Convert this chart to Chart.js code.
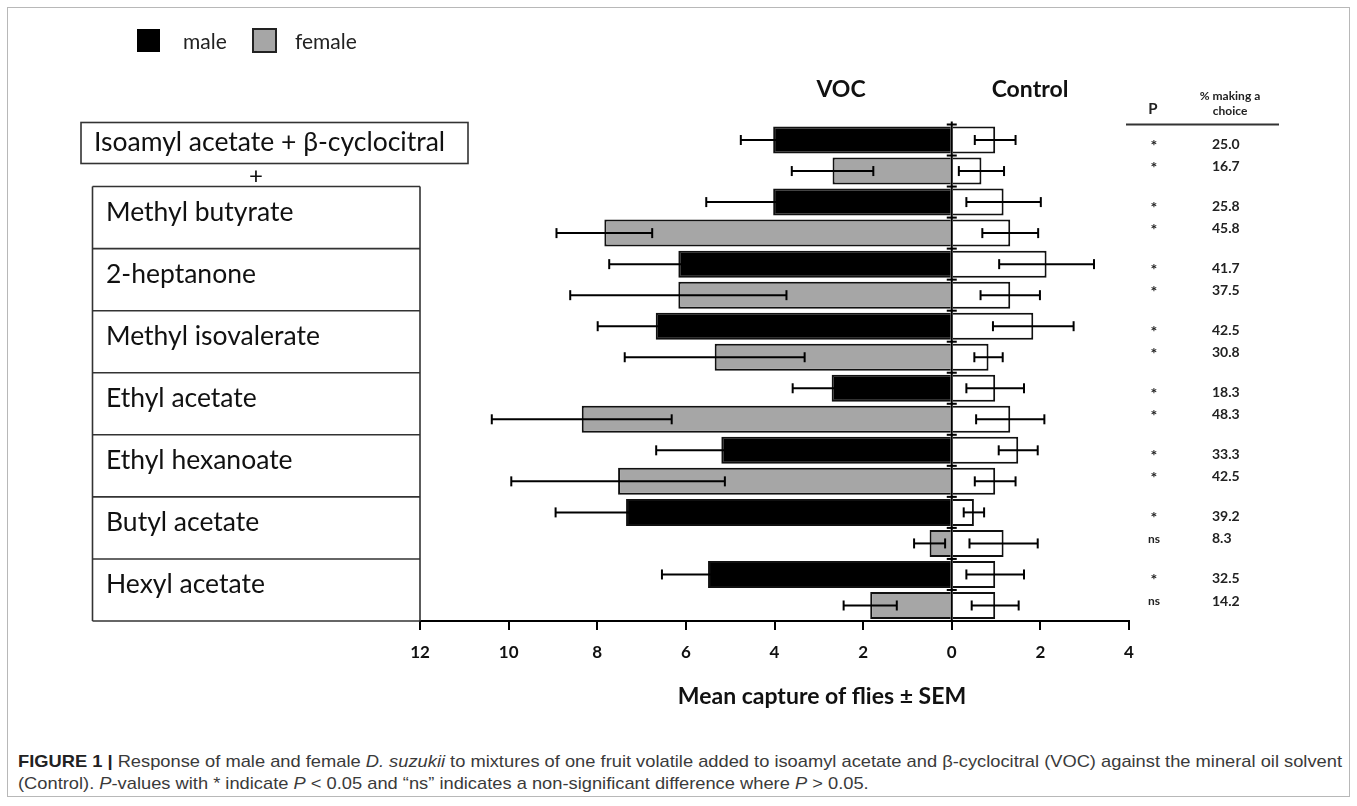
<!DOCTYPE html>
<html>
<head>
<meta charset="utf-8">
<script src="https://cdn.jsdelivr.net/npm/chart.js@4.4.1/dist/chart.umd.min.js"></script>
<style>
  html, body { margin: 0; padding: 0; background: #fff; }
  body { width: 1357px; height: 806px; position: relative; overflow: hidden; }
  #frame { position: absolute; left: 7px; top: 7px; width: 1341px; height: 788px; border: 1px solid #b8b8b8; }
  #chart { position: absolute; left: 0; top: 0; }
  #caption { position: absolute; left: 18px; top: 751px; font-family: "Liberation Sans Narrow", "Liberation Sans", Arial, sans-serif;
             font-size: 17px; line-height: 22px; color: #3a3a3a; white-space: nowrap; }
  #caption .line { display: inline-block; transform-origin: 0 50%; }
  #caption b { color: #222; }
</style>
</head>
<body>
<div id="frame"></div>
<canvas id="chart" width="1357" height="735"></canvas>
<div id="caption">
  <span class="line" id="cap1"><b>FIGURE 1 |</b> Response of male and female <i>D. suzukii</i> to mixtures of one fruit volatile added to isoamyl acetate and β-cyclocitral (VOC) against the mineral oil solvent</span><br>
  <span class="line" id="cap2">(Control). <i>P</i>-values with * indicate <i>P</i> &lt; 0.05 and “ns” indicates a non-significant difference where <i>P</i> &gt; 0.05.</span>
</div>

<script>
// Fruit volatiles added to isoamyl acetate + β-cyclocitral (first entry is the base blend alone)
const mixtures = [
  'Isoamyl acetate + β-cyclocitral',
  'Methyl butyrate',
  '2-heptanone',
  'Methyl isovalerate',
  'Ethyl acetate',
  'Ethyl hexanoate',
  'Butyl acetate',
  'Hexyl acetate'
];

// Mean capture of flies in the VOC trap
const vocMale      = [4.03, 4.03, 6.17, 6.68, 2.71, 5.20, 7.35, 5.50];
const vocMaleSem   = [0.73, 1.51, 1.56, 1.31, 0.88, 1.47, 1.59, 1.04];
const vocFemale    = [2.69, 7.84, 6.17, 5.35, 8.35, 7.53, 0.50, 1.84];
const vocFemaleSem = [0.92, 1.08, 2.44, 2.03, 2.03, 2.41, 0.35, 0.60];

// Mean capture of flies in the control (mineral oil) trap
const ctrlMale      = [0.98, 1.17, 2.14, 1.84, 0.98, 1.50, 0.50, 0.98];
const ctrlMaleSem   = [0.46, 0.84, 1.07, 0.91, 0.65, 0.44, 0.23, 0.65];
const ctrlFemale    = [0.67, 1.32, 1.32, 0.83, 1.32, 0.98, 1.17, 0.98];
const ctrlFemaleSem = [0.51, 0.63, 0.67, 0.32, 0.77, 0.46, 0.77, 0.53];

// Significance and % of flies making a choice
const pMale     = ['*', '*', '*', '*', '*', '*', '*', '*'];
const pFemale   = ['*', '*', '*', '*', '*', '*', 'ns', 'ns'];
const pctMale   = ['25.0', '25.8', '41.7', '42.5', '18.3', '33.3', '39.2', '32.5'];
const pctFemale = ['16.7', '45.8', '37.5', '30.8', '48.3', '42.5', '8.3', '14.2'];

// Axis ticks
const xMin = -12, xMax = 4, xStep = 2;

const MALE_COLOR = '#000000';
const FEMALE_COLOR = '#a6a6a6';
const INK = '#111111';

// One bar row per mixture and sex: male row first, then female
const rowLabels = [], vocValues = [], vocSem = [], ctrlValues = [], ctrlSem = [], vocColors = [];
const rowP = [], rowPct = [], rowIsMale = [];
mixtures.forEach((m, i) => {
  rowLabels.push(m + ' (male)', m + ' (female)');
  vocValues.push(-vocMale[i], -vocFemale[i]);
  vocSem.push(vocMaleSem[i], vocFemaleSem[i]);
  ctrlValues.push(ctrlMale[i], ctrlFemale[i]);
  ctrlSem.push(ctrlMaleSem[i], ctrlFemaleSem[i]);
  vocColors.push(MALE_COLOR, FEMALE_COLOR);
  rowP.push(pMale[i], pFemale[i]);
  rowPct.push(pctMale[i], pctFemale[i]);
  rowIsMale.push(true, false);
});

function hLine(ctx, x1, x2, y) { ctx.beginPath(); ctx.moveTo(x1, y); ctx.lineTo(x2, y); ctx.stroke(); }
function vLine(ctx, x, y1, y2) { ctx.beginPath(); ctx.moveTo(x, y1); ctx.lineTo(x, y2); ctx.stroke(); }

// Error bars (± SEM) and the centre axis at zero
const errorBarsPlugin = {
  id: 'errorBars',
  afterDatasetsDraw(chart) {
    const { ctx, scales: { x, y }, chartArea } = chart;
    ctx.save();
    ctx.strokeStyle = '#000';
    ctx.lineWidth = 2;
    const cap = 5;
    const drawErr = (mean, sem, row) => {
      const py = y.getPixelForValue(row);
      const x1 = x.getPixelForValue(mean - sem);
      const x2 = x.getPixelForValue(mean + sem);
      hLine(ctx, x1, x2, py);
      vLine(ctx, x1, py - cap, py + cap);
      vLine(ctx, x2, py - cap, py + cap);
    };
    rowLabels.forEach((_, i) => {
      drawErr(vocValues[i], vocSem[i], i);
      drawErr(ctrlValues[i], ctrlSem[i], i);
    });
    // zero line with short crossing ticks at each row boundary
    const x0 = x.getPixelForValue(0);
    vLine(ctx, x0, chartArea.top - 3, chartArea.bottom);
    for (let i = 0; i <= rowLabels.length; i++) {
      const py = y.getPixelForValue(i - 0.5);
      hLine(ctx, x0 - 5, x0 + 5, py);
    }
    ctx.restore();
  }
};

// Legend, headings, mixture table, significance table and axis title
const annotationsPlugin = {
  id: 'annotations',
  afterDraw(chart) {
    const { ctx, scales: { x, y }, chartArea } = chart;
    ctx.save();

    // legend
    ctx.fillStyle = MALE_COLOR;
    ctx.fillRect(137, 29, 23, 23);
    ctx.fillStyle = FEMALE_COLOR;
    ctx.fillRect(253, 29, 23, 23);
    ctx.strokeStyle = '#222';
    ctx.lineWidth = 2;
    ctx.strokeRect(253, 29, 23, 23);
    ctx.fillStyle = '#222';
    ctx.font = '21px Lato';
    ctx.textBaseline = 'middle';
    ctx.textAlign = 'left';
    ctx.fillText('male', 183, 42);
    ctx.fillText('female', 295, 42);

    // column headings
    ctx.fillStyle = '#111';
    ctx.font = 'bold 23px Lato';
    ctx.textAlign = 'center';
    ctx.fillText('VOC', 841, 90);
    ctx.fillText('Control', 1030, 90);

    // mixture table on the left
    ctx.strokeStyle = '#333';
    ctx.lineWidth = 1.6;
    ctx.fillStyle = '#111';
    ctx.font = '26.5px Lato';
    ctx.textAlign = 'left';
    ctx.textBaseline = 'alphabetic';
    const baseTop = y.getPixelForValue(-0.5) - 2;
    ctx.strokeRect(81, baseTop, 387, 41);
    ctx.fillText(mixtures[0], 94, baseTop + 28.5);
    ctx.textAlign = 'center';
    ctx.font = '24px Lato';
    ctx.fillText('+', 256, y.getPixelForValue(1.5) - 3);
    ctx.font = '26.5px Lato';

    const tLeft = 92.5, tRight = x.getPixelForValue(xMin);
    const tTop = y.getPixelForValue(1.5), tBottom = y.getPixelForValue(rowLabels.length - 0.5);
    vLine(ctx, tLeft, tTop, tBottom);
    vLine(ctx, tRight, tTop, tBottom);
    ctx.textAlign = 'left';
    for (let k = 1; k < mixtures.length; k++) {
      const top = y.getPixelForValue(2 * k - 0.5);
      hLine(ctx, tLeft, tRight, top);
      ctx.fillText(mixtures[k], 106, top + 34);
    }
    hLine(ctx, tLeft, tRight, tBottom);

    // significance / % making a choice table
    ctx.fillStyle = '#222';
    ctx.textAlign = 'center';
    ctx.textBaseline = 'middle';
    ctx.font = 'bold 15px Lato';
    ctx.fillText('P', 1153, 109);
    ctx.font = 'bold 12px Lato';
    ctx.fillText('% making a', 1230, 96);
    ctx.fillText('choice', 1230, 111);
    ctx.strokeStyle = '#333';
    ctx.lineWidth = 2;
    hLine(ctx, 1126, 1279, chartArea.top);
    rowLabels.forEach((_, i) => {
      const py = y.getPixelForValue(i) + (rowIsMale[i] ? 4.5 : -4.5);
      ctx.textAlign = 'center';
      ctx.font = rowP[i] === '*' ? 'bold 16px Lato' : 'bold 12px Lato';
      ctx.fillText(rowP[i], 1154, py + (rowP[i] === '*' ? 1 : 0));
      ctx.textAlign = 'left';
      ctx.font = 'bold 14px Lato';
      ctx.fillText(rowPct[i], 1212, py);
    });

    // x axis title
    ctx.fillStyle = '#111';
    ctx.textAlign = 'center';
    ctx.font = 'bold 23px Lato';
    ctx.fillText('Mean capture of flies ± SEM', 822, 697);

    ctx.restore();
  }
};

function fitCaption() {
  const l1 = document.getElementById('cap1');
  const l2 = document.getElementById('cap2');
  const w = l1.getBoundingClientRect().width;
  const s = 1324 / w;
  l1.style.transform = 'scaleX(' + s + ')';
  l2.style.transform = 'scaleX(' + s + ')';
}

function build() {
  fitCaption();
  new Chart(document.getElementById('chart'), {
    type: 'bar',
    data: {
      labels: rowLabels,
      datasets: [
        { label: 'VOC', data: vocValues, backgroundColor: vocColors, borderColor: INK, borderWidth: 2 },
        { label: 'Control', data: ctrlValues, backgroundColor: '#ffffff', borderColor: INK, borderWidth: 2 }
      ]
    },
    options: {
      indexAxis: 'y',
      responsive: false,
      animation: false,
      layout: { padding: { left: 420, right: 228, top: 124.5, bottom: 74 } },
      datasets: { bar: { barPercentage: 0.87, categoryPercentage: 1 } },
      plugins: { legend: { display: false }, tooltip: { enabled: false }, title: { display: false } },
      scales: {
        x: {
          type: 'linear', stacked: true, min: xMin, max: xMax,
          afterFit: s => { s.height = 40; },
          ticks: {
            stepSize: xStep, color: '#111', padding: 12,
            font: { family: 'Lato', weight: 'bold', size: 17 },
            callback: v => Math.abs(v)
          },
          grid: { drawOnChartArea: false, drawTicks: true, tickLength: 9, color: '#000', lineWidth: 2 },
          border: { display: true, color: '#000', width: 2 }
        },
        y: { type: 'category', stacked: true, display: false, offset: true }
      }
    },
    plugins: [errorBarsPlugin, annotationsPlugin]
  });
}

Promise.all(['24px Lato', 'bold 20px Lato', '16px "Liberation Sans Narrow"'].map(f => document.fonts.load(f)))
  .then(build, build);
</script>
</body>
</html>
